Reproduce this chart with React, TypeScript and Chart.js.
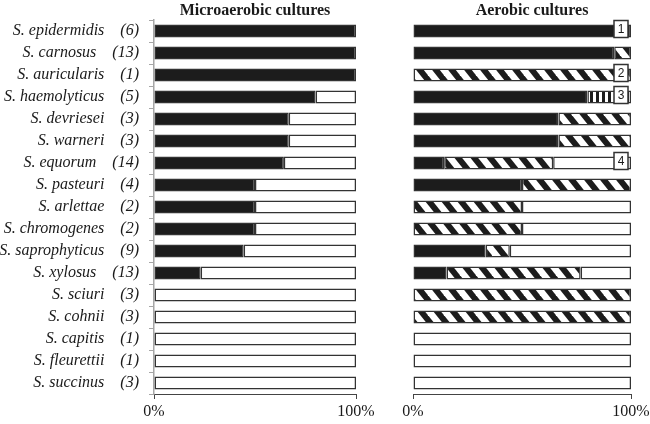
import React, { useEffect, useRef } from 'react';
import { Chart, registerables } from 'chart.js';

Chart.register(...registerables);

// ---------- data ----------
const species = [
  'S. epidermidis', 'S. carnosus', 'S. auricularis', 'S. haemolyticus', 'S. devriesei',
  'S. warneri', 'S. equorum', 'S. pasteuri', 'S. arlettae', 'S. chromogenes',
  'S. saprophyticus', 'S. xylosus', 'S. sciuri', 'S. cohnii', 'S. capitis',
  'S. fleurettii', 'S. succinus',
];
const counts = [6, 13, 1, 5, 3, 3, 14, 4, 2, 2, 9, 13, 3, 3, 1, 1, 3];

// Microaerobic cultures (% of strains)
const microGrowth = [100, 100, 100, 80, 66.7, 66.7, 64.3, 50, 50, 50, 44.4, 23.1, 0, 0, 0, 0, 0];
const microNoGrowth = [0, 0, 0, 20, 33.3, 33.3, 35.7, 50, 50, 50, 55.6, 76.9, 100, 100, 100, 100, 100];

// Aerobic cultures (% of strains)
const aeroBlack = [100, 92.3, 0, 80, 66.7, 66.7, 14.3, 50, 0, 0, 33.3, 15.4, 0, 0, 0, 0, 0];
const aeroHatched = [0, 7.7, 100, 0, 33.3, 33.3, 50, 50, 50, 50, 11.1, 61.5, 100, 100, 0, 0, 0];
const aeroStriped = [0, 0, 0, 20, 0, 0, 0, 0, 0, 0, 0, 0, 0, 0, 0, 0, 0];
const aeroWhite = [0, 0, 0, 0, 0, 0, 35.7, 0, 50, 50, 55.6, 23.1, 0, 0, 100, 100, 100];

const boxRows = [0, 2, 3, 6];
const boxLabels = ['1', '2', '3', '4'];
const panelTitles = ['Microaerobic cultures', 'Aerobic cultures'];

// ---------- styles ----------
const BLACK = '#1c1c1c';
const EDGE = '#333333';
const TEXT = '#1a1a1a';
const SERIF = '"Liberation Serif", "Times New Roman", serif';

function makeHatch(): CanvasPattern | string {
  const c = document.createElement('canvas');
  const w = 16, h = 20;
  c.width = w; c.height = h;
  const g = c.getContext('2d');
  if (!g) return '#888';
  g.fillStyle = '#ffffff';
  g.fillRect(0, 0, w, h);
  g.strokeStyle = BLACK;
  g.lineWidth = 6;
  for (let k = -1; k <= 1; k++) {
    g.beginPath();
    g.moveTo(k * w - w / 2, -h / 2);
    g.lineTo(k * w + w * 1.5, h * 1.5);
    g.stroke();
  }
  return g.createPattern(c, 'repeat') || '#888';
}

function makeStripes(): CanvasPattern | string {
  const c = document.createElement('canvas');
  c.width = 6; c.height = 4;
  const g = c.getContext('2d');
  if (!g) return '#888';
  g.fillStyle = '#ffffff';
  g.fillRect(0, 0, 6, 4);
  g.fillStyle = BLACK;
  g.fillRect(0, 0, 3, 4);
  return g.createPattern(c, 'repeat') || '#888';
}

function titlePlugin(text: string, offset: number) {
  return {
    id: 'panelTitle',
    afterDraw(chart: any) {
      const { ctx, chartArea } = chart;
      ctx.save();
      ctx.font = `bold 16px ${SERIF}`;
      ctx.fillStyle = TEXT;
      ctx.textAlign = 'center';
      ctx.textBaseline = 'middle';
      ctx.fillText(text, (chartArea.left + chartArea.right) / 2 + offset, 11);
      ctx.restore();
    },
  };
}

const boxPlugin = {
  id: 'numberBoxes',
  afterDatasetsDraw(chart: any) {
    const { ctx } = chart;
    const xs = chart.scales.x;
    const ys = chart.scales.y;
    ctx.save();
    boxRows.forEach((row, i) => {
      const cy = ys.getPixelForValue(row) - 2;
      const right = xs.getPixelForValue(100) - 3;
      const w = 14, h = 17;
      const x0 = right - w;
      const y0 = cy - h / 2;
      ctx.fillStyle = '#ffffff';
      ctx.fillRect(x0, y0, w, h);
      ctx.strokeStyle = EDGE;
      ctx.lineWidth = 1.5;
      ctx.strokeRect(x0, y0, w, h);
      ctx.fillStyle = TEXT;
      ctx.font = '12px "Liberation Sans", Arial, sans-serif';
      ctx.textAlign = 'center';
      ctx.textBaseline = 'middle';
      ctx.fillText(boxLabels[i], x0 + w / 2, cy + 0.5);
    });
    ctx.restore();
  },
};

const barStyle = {
  barPercentage: 0.6,
  categoryPercentage: 1,
  borderWidth: 1.5,
  borderColor: EDGE,
  borderSkipped: false as const,
  inflateAmount: 0,
};

function xAxis() {
  return {
    stacked: true,
    min: 0,
    max: 100,
    grid: { display: true, drawOnChartArea: false, drawTicks: true, tickLength: 5, color: '#444444' },
    border: { display: true, color: '#444444', width: 1 },
    ticks: {
      stepSize: 100,
      maxRotation: 0,
      padding: 3,
      color: TEXT,
      font: { family: SERIF, size: 16 },
      callback: (v: any) => `${v}%`,
    },
    afterFit: (scale: any) => {
      scale.height = 30;
      scale.paddingLeft = 0;
      scale.paddingRight = 0;
    },
  };
}

export default function App() {
  const leftRef = useRef<HTMLCanvasElement>(null);
  const rightRef = useRef<HTMLCanvasElement>(null);

  useEffect(() => {
    if (!leftRef.current || !rightRef.current) return;
    const hatch = makeHatch();
    const stripes = makeStripes();

    const left = new Chart(leftRef.current, {
      type: 'bar',
      data: {
        labels: species,
        datasets: [
          { label: 'growth', data: microGrowth, backgroundColor: BLACK, ...barStyle },
          { label: 'no growth', data: microNoGrowth, backgroundColor: '#ffffff', ...barStyle },
        ],
      },
      options: {
        indexAxis: 'y',
        responsive: false,
        animation: false,
        devicePixelRatio: 1,
        layout: { padding: { left: 0, right: 24, top: 20, bottom: 0 } },
        plugins: { legend: { display: false }, tooltip: { enabled: false }, title: { display: false } },
        scales: {
          x: xAxis() as any,
          y: {
            stacked: true,
            grid: { display: true, drawOnChartArea: false, drawTicks: true, tickLength: 5, color: '#a6a6a6', offset: true },
            border: { display: true, color: '#a6a6a6', width: 1.5 },
            ticks: {
              padding: 10,
              color: TEXT,
              autoSkip: false,
              font: { family: SERIF, size: 16, style: 'italic' },
              callback: (_v: any, i: number) => `${species[i]}    (${counts[i]})`,
            },
            afterFit: (scale: any) => { scale.width = 154; },
          } as any,
        },
      },
      plugins: [titlePlugin(panelTitles[0], 0)],
    });

    const right = new Chart(rightRef.current, {
      type: 'bar',
      data: {
        labels: species,
        datasets: [
          { label: 'black', data: aeroBlack, backgroundColor: BLACK, ...barStyle },
          { label: 'hatched', data: aeroHatched, backgroundColor: hatch as any, ...barStyle },
          { label: 'striped', data: aeroStriped, backgroundColor: stripes as any, ...barStyle },
          { label: 'white', data: aeroWhite, backgroundColor: '#ffffff', ...barStyle },
        ],
      },
      options: {
        indexAxis: 'y',
        responsive: false,
        animation: false,
        devicePixelRatio: 1,
        layout: { padding: { left: 33, right: 19, top: 20, bottom: 0 } },
        plugins: { legend: { display: false }, tooltip: { enabled: false }, title: { display: false } },
        scales: {
          x: xAxis() as any,
          y: { stacked: true, display: false } as any,
        },
      },
      plugins: [titlePlugin(panelTitles[1], 10), boxPlugin],
    });

    return () => {
      left.destroy();
      right.destroy();
    };
  }, []);

  return (
    <div style={{ position: 'absolute', left: 0, top: 0, width: 650, height: 424, background: '#ffffff' }}>
      <canvas ref={leftRef} width={380} height={424}
        style={{ position: 'absolute', left: 0, top: 0, width: 380, height: 424 }} />
      <canvas ref={rightRef} width={270} height={424}
        style={{ position: 'absolute', left: 380, top: 0, width: 270, height: 424 }} />
    </div>
  );
}
